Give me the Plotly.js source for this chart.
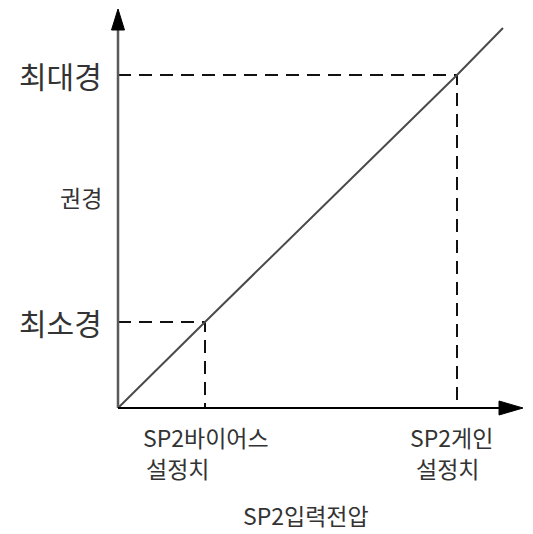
<!DOCTYPE html>
<html>
<head>
<meta charset="utf-8">
<script src="https://cdn.plot.ly/plotly-3.0.1.min.js"></script>
<style>
  html, body { margin: 0; padding: 0; background: #fff; }
  #chart { width: 533px; height: 534px; }
</style>
</head>
<body>
<div id="chart"></div>
<script>
// SP2 input voltage (x) vs. diameter (y)
const inputLabelTop = ['SP2바이어스', 'SP2게인'];
const inputLabelBottom = ['설정치', '설정치'];
const inputSetting = [87, 339];          // bias / gain set points on the input axis
const diameterLabels = ['최소경', '최대경'];
const diameterSetting = [86, 333];        // minimum / maximum diameter
const responseX = [0, 87, 339, 385];      // linear response curve
const responseY = [0, 86, 333, 380];
const yTitle = '권경';
const xTitle = 'SP2입력전압';

const FONT = '"Noto Sans CJK KR", "Noto Sans", sans-serif';
const TEXT = '#333333';

const traces = [];

// dashed guides from each diameter level to its set point and down to the input axis
inputSetting.forEach((xv, i) => {
  traces.push({
    type: 'scatter', mode: 'lines',
    x: [0, xv, xv],
    y: [diameterSetting[i], diameterSetting[i], 0],
    line: { color: '#111111', width: 2, dash: '13px,8px' },
    hoverinfo: 'skip', showlegend: false
  });
});

traces.push({
  type: 'scatter', mode: 'lines',
  x: responseX, y: responseY,
  line: { color: '#4a4a4a', width: 2 },
  hoverinfo: 'skip', showlegend: false
});

const annotations = [];
diameterLabels.forEach((t, i) => {
  annotations.push({
    xref: 'x', yref: 'y', x: -15, y: diameterSetting[i],
    xanchor: 'right', yanchor: 'middle', showarrow: false, borderpad: 0,
    text: t, font: { family: FONT, size: 30, color: TEXT }
  });
});
annotations.push({
  xref: 'x', yref: 'y', x: -15, y: 211,
  xanchor: 'right', yanchor: 'middle', showarrow: false, borderpad: 0,
  text: yTitle, font: { family: FONT, size: 23, color: TEXT }
});
const bottomShift = [-28, -10];
const topShift = [1, -6];
inputSetting.forEach((xv, i) => {
  annotations.push({
    xref: 'x', yref: 'y', x: xv, y: -15, yshift: -14, xshift: topShift[i],
    xanchor: 'center', yanchor: 'middle', showarrow: false, borderpad: 0,
    text: inputLabelTop[i], font: { family: FONT, size: 23, color: TEXT }
  });
  annotations.push({
    xref: 'x', yref: 'y', x: xv, y: -15, yshift: -45, xshift: bottomShift[i],
    xanchor: 'center', yanchor: 'middle', showarrow: false, borderpad: 0,
    text: inputLabelBottom[i], font: { family: FONT, size: 23, color: TEXT }
  });
});
annotations.push({
  xref: 'x', yref: 'y', x: 188, y: -15, yshift: -110,
  xanchor: 'center', yanchor: 'bottom', showarrow: false, borderpad: 0,
  text: xTitle, font: { family: FONT, size: 23, color: TEXT }
});

// axes drawn as lines with solid arrowheads (1 data unit = 1 px on both axes)
const shapes = [
  { type: 'line', xref: 'x', yref: 'y', x0: 0, y0: 0, x1: 0, y1: 382,
    line: { color: '#5a5a5a', width: 2.5 } },
  { type: 'line', xref: 'x', yref: 'y', x0: 0, y0: 0, x1: 385, y1: 0,
    line: { color: '#000000', width: 2 } },
  { type: 'path', xref: 'x', yref: 'y',
    path: 'M0,399 L-6.5,378 L6.5,378 Z',
    fillcolor: '#000000', line: { color: '#000000', width: 1 } },
  { type: 'path', xref: 'x', yref: 'y',
    path: 'M405,0 L381,7 L381,-7 Z',
    fillcolor: '#000000', line: { color: '#000000', width: 1 } }
];

const layout = {
  width: 533, height: 534,
  margin: { l: 100, r: 0, t: 0, b: 108 },
  paper_bgcolor: '#ffffff', plot_bgcolor: '#ffffff',
  xaxis: { range: [-18, 415], visible: false, fixedrange: true },
  yaxis: { range: [-18, 408], visible: false, fixedrange: true },
  showlegend: false,
  annotations: annotations,
  shapes: shapes
};

Plotly.newPlot('chart', traces, layout, { staticPlot: true, displayModeBar: false });
</script>
</body>
</html>
